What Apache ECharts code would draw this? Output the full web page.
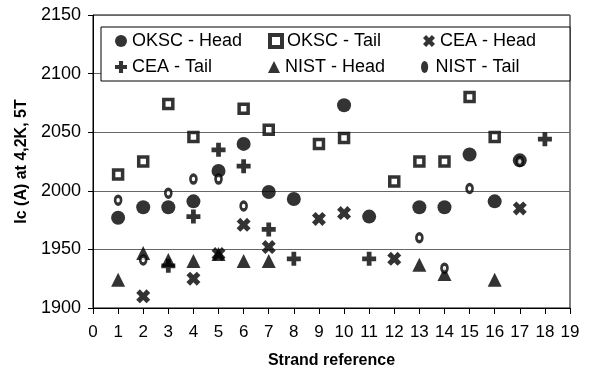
<!DOCTYPE html>
<html><head><meta charset="utf-8">
<script src="https://cdn.jsdelivr.net/npm/echarts@6/dist/echarts.min.js"></script>
<style>html,body{margin:0;padding:0;background:#fff}#c{width:597px;height:378px}</style>
</head><body><div id="c"></div>
<script>
// Data: [strand, Ic]
const oksc_head = [[1,1977],[2,1986],[3,1986],[4,1991],[5,2017],[6,2040],[7,1999],[8,1993],[10,2073],[11,1978],[13,1986],[14,1986],[15,2031],[16,1991],[17,2026]];
const oksc_tail = [[1,2014],[2,2025],[3,2074],[4,2046],[6,2070],[7,2052],[9,2040],[10,2045],[12,2008],[13,2025],[14,2025],[15,2080],[16,2046]];
const cea_head = [[2,1910],[4,1925],[5,1946],[6,1971],[7,1952],[9,1976],[10,1981],[12,1942],[17,1985]];
const cea_tail = [[3,1936],[4,1978],[5,2035],[6,2021],[7,1967],[8,1942],[11,1942],[18,2044]];
const nist_head = [[1,1924],[2,1947],[3,1941],[4,1940],[5,1946],[6,1940],[7,1940],[13,1937],[14,1929],[16,1924]];
const nist_tail = [[1,1992],[2,1941],[3,1998],[4,2010],[5,2010],[6,1987],[13,1960],[14,1934],[15,2002],[17,2025]];
const seriesNames = ['OKSC - Head','OKSC - Tail','CEA - Head','CEA - Tail','NIST - Head','NIST - Tail'];
const xTitle = 'Strand reference';
const yTitle = 'Ic (A) at 4,2K, 5T';

const F = 'Liberation Sans, Arial, sans-serif';
const X_PATH = 'path://M0,2.6 L2.6,0 L5,2.4 L7.4,0 L10,2.6 L7.6,5 L10,7.4 L7.4,10 L5,7.6 L2.6,10 L0,7.4 L2.4,5 Z';
const PLUS_PATH = 'path://M3.3,0 H6.7 V3.3 H10 V6.7 H6.7 V10 H3.3 V6.7 H0 V3.3 H3.3 Z';

const legendData = seriesNames.map(function(n, i){
  if (i === 1) return {name:n, itemStyle:{color:'#fff', borderColor:'#000', borderWidth:4}};
  if (i === 5) return {name:n, icon:'path://M5,0 A3,5 0 1 1 5,10 A3,5 0 1 1 5,0 Z', itemStyle:{color:'#000', borderColor:'#000', borderWidth:0}};
  return {name:n};
});

const chart = echarts.init(document.getElementById('c'), null, {renderer:'canvas'});
chart.setOption({
  animation:false,
  backgroundColor:'#fff',
  grid:{left:93,right:27,top:15,bottom:70,show:true,borderColor:'#000',borderWidth:1},
  legend:{
    left:101, top:27, width:520,
    padding:[5,2,5,14], itemGap:8, itemWidth:12, itemHeight:12,
    borderColor:'#000', borderWidth:1, backgroundColor:'#fff',
    data:legendData,
    formatter:'{a|{name}}',
    textStyle:{fontFamily:F, fontSize:18, color:'#000', rich:{a:{width:128, fontFamily:F, fontSize:18, lineHeight:18, color:'#000'}}}
  },
  xAxis:{
    type:'value', min:0, max:19, interval:1,
    name:xTitle, nameLocation:'middle', nameGap:45,
    nameTextStyle:{fontFamily:F, fontSize:16, fontWeight:'bold', color:'#000'},
    axisLine:{lineStyle:{color:'#000',width:1}},
    axisTick:{show:true, length:6, lineStyle:{color:'#000'}},
    axisLabel:{fontFamily:F, fontSize:17, color:'#000', margin:16},
    splitLine:{show:false}
  },
  yAxis:{
    type:'value', min:1900, max:2150, interval:50,
    name:yTitle, nameLocation:'middle', nameGap:48,
    nameTextStyle:{fontFamily:F, fontSize:16, fontWeight:'bold', color:'#000'},
    axisLine:{show:true, lineStyle:{color:'#000',width:1}},
    axisTick:{show:true, length:5, lineStyle:{color:'#000'}},
    axisLabel:{fontFamily:F, fontSize:18, color:'#000', margin:12, formatter:function(v){return String(v);}},
    splitLine:{show:true, lineStyle:{color:'#666', width:1}}
  },
  series:[
    {name:seriesNames[0], type:'scatter', data:oksc_head, symbol:'circle', symbolSize:14, itemStyle:{color:'#000'}},
    {name:seriesNames[1], type:'scatter', data:oksc_tail, symbol:'rect', symbolSize:9, itemStyle:{color:'#fff', borderColor:'#000', borderWidth:3.5}},
    {name:seriesNames[2], type:'scatter', data:cea_head, symbol:X_PATH, symbolSize:14, itemStyle:{color:'#000'}},
    {name:seriesNames[3], type:'scatter', data:cea_tail, symbol:PLUS_PATH, symbolSize:14, itemStyle:{color:'#000'}},
    {name:seriesNames[4], type:'scatter', data:nist_head, symbol:'triangle', symbolSize:14, itemStyle:{color:'#000'}},
    {name:seriesNames[5], type:'scatter', data:nist_tail, symbol:'circle', symbolSize:[6,8], itemStyle:{color:'#fff', borderColor:'#000', borderWidth:3}}
  ]
});
</script></body></html>
